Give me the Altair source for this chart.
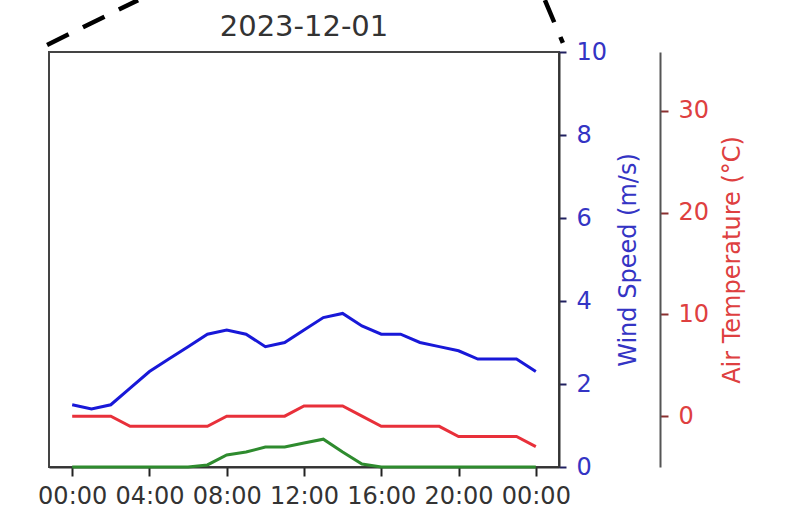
import altair as alt
import pandas as pd

# Hourly observations for one day
hours = [0, 1, 2, 3, 4, 5, 6, 7, 8, 9, 10, 11, 12, 13, 14, 15, 16, 17, 18, 19, 20, 21, 22, 23, 24]
wind_speed = [1.5, 1.4, 1.5, 1.9, 2.3, 2.6, 2.9, 3.2, 3.3, 3.2, 2.9, 3.0, 3.3,
              3.6, 3.7, 3.4, 3.2, 3.2, 3.0, 2.9, 2.8, 2.6, 2.6, 2.6, 2.3]
air_temp = [0, 0, 0, -1, -1, -1, -1, -1, 0, 0, 0, 0, 1,
            1, 1, 0, -1, -1, -1, -1, -2, -2, -2, -2, -3]
solar = [0, 0, 0, 0, 0, 0, 0, 5, 29, 36, 48, 48, 58,
         67, 36, 7, 0, 0, 0, 0, 0, 0, 0, 0, 0]

tick_hours = [0, 4, 8, 12, 16, 20, 24]

# Zoom connector lines (hour, wind-speed units) leading up out of the panel
conn_side = ["left", "left", "right", "right"]
conn_hour = [-1.30, 3.41, 25.40, 24.47]
conn_level = [10.17, 11.25, 10.22, 11.25]

df = pd.DataFrame({"hour": hours, "wind": wind_speed, "temp": air_temp, "solar": solar})
conn = pd.DataFrame({"side": conn_side, "hour": conn_hour, "level": conn_level})

FONT = "DejaVu Sans"
BLUE_LINE = "#1818d8"
BLUE_TEXT = "#3434c4"
RED_LINE = "#e8303a"
RED_TEXT = "#de4040"
GREEN_LINE = "#2e8b2e"
LABEL_SIZE = 24
TITLE_SIZE = 24

x_enc = alt.X(
    "hour:Q",
    scale=alt.Scale(domain=[-1.2, 25.2], nice=False, zero=False),
    axis=alt.Axis(
        values=tick_hours,
        labelExpr="(datum.value % 24 < 10 ? '0' : '') + (datum.value % 24) + ':00'",
        title=None, grid=False, domainColor="#333333", domainWidth=2,
        tickColor="#222222", tickWidth=2, tickSize=9,
        labelFont=FONT, labelFontSize=LABEL_SIZE, labelColor="#333333", labelPadding=8,
    ),
)

solar_layer = alt.Chart(df).mark_line(color=GREEN_LINE, strokeWidth=3).encode(
    x=x_enc,
    y=alt.Y("solar:Q", scale=alt.Scale(domain=[0, 1000], nice=False), axis=None),
)

temp_layer = alt.Chart(df).mark_line(color=RED_LINE, strokeWidth=3).encode(
    x=x_enc,
    y=alt.Y(
        "temp:Q",
        scale=alt.Scale(domain=[-5, 35.8], nice=False, zero=False),
        axis=alt.Axis(
            orient="right", offset=101, values=[0, 10, 20, 30], grid=False,
            title="Air Temperature (°C)", titleColor=RED_TEXT, titleFont=FONT,
            titleFontSize=TITLE_SIZE, titleFontWeight="normal", titlePadding=12,
            titleAngle=270, titleBaseline="top",
            labelColor=RED_TEXT, labelFont=FONT, labelFontSize=LABEL_SIZE, labelPadding=10,
            tickColor="#8a3030", tickWidth=2, tickSize=8,
            domainColor="#555555", domainWidth=2,
        ),
    ),
)

wind_layer = alt.Chart(df).mark_line(color=BLUE_LINE, strokeWidth=3).encode(
    x=x_enc,
    y=alt.Y(
        "wind:Q",
        scale=alt.Scale(domain=[0, 10], nice=False),
        axis=alt.Axis(
            orient="right", offset=0, values=[0, 2, 4, 6, 8, 10], grid=False,
            title="Wind Speed (m/s)", titleColor=BLUE_TEXT, titleFont=FONT,
            titleFontSize=TITLE_SIZE, titleFontWeight="normal", titlePadding=10,
            titleAngle=270, titleBaseline="top",
            labelColor=BLUE_TEXT, labelFont=FONT, labelFontSize=LABEL_SIZE, labelPadding=10,
            tickColor="#202060", tickWidth=2, tickSize=7,
            domainColor="#333333", domainWidth=2,
        ),
    ),
)

connector_layer = alt.Chart(conn).mark_line(
    color="black", strokeWidth=4.5, strokeDash=[24, 16], clip=False
).encode(
    x=alt.X("hour:Q", scale=alt.Scale(domain=[-1.2, 25.2], nice=False, zero=False)),
    y=alt.Y("level:Q", scale=alt.Scale(domain=[0, 10], nice=False), axis=None),
    detail="side:N",
)

chart = alt.layer(
    solar_layer, temp_layer, wind_layer, connector_layer
).resolve_scale(
    y="independent"
).properties(
    width=510,
    height=415,
    title=alt.TitleParams(
        "2023-12-01", font=FONT, fontSize=29, fontWeight="normal",
        color="#333333", frame="group", anchor="middle", offset=0, dy=51,
    ),
    autosize=alt.AutoSizeParams(type="none"),
    padding={"left": 49, "top": 52, "right": 236, "bottom": 52},
    background="white",
).configure_view(
    stroke="#444444", strokeWidth=2
)

chart.save("out.html", embed_options={"renderer": "svg", "actions": False})
